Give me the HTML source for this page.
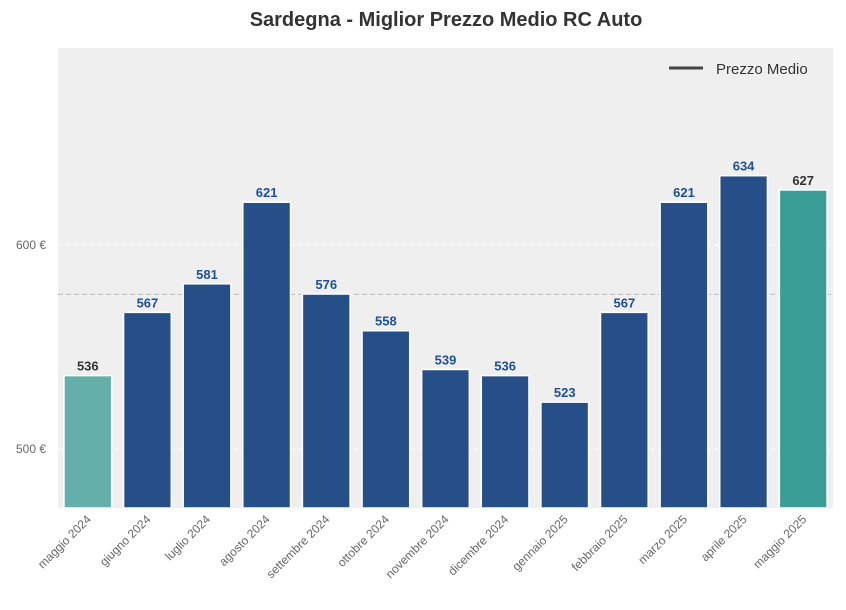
<!DOCTYPE html>
<html><head><meta charset="utf-8"><style>
body{margin:0;background:#fff;font-family:"Liberation Sans",Arial,sans-serif}
svg{display:block}
</style></head><body>
<svg id="chart" width="846" height="610" xmlns="http://www.w3.org/2000/svg">
<text x="446" y="26" text-anchor="middle" font-size="20" font-weight="bold" fill="#333">Sardegna - Miglior Prezzo Medio RC Auto</text>
<rect x="58" y="48" width="775" height="460" fill="#efefef"/>
<g id="grid"></g><g id="bars"></g><g id="labels"></g><g id="xticks"></g><g id="yticks"></g>
<g>
<line x1="669" y1="68" x2="703" y2="68" stroke="#444" stroke-width="3"/>
<text x="716" y="74" font-size="15" fill="#333">Prezzo Medio</text>
</g>
</svg>
<script>
const categories=["maggio 2024","giugno 2024","luglio 2024","agosto 2024","settembre 2024","ottobre 2024","novembre 2024","dicembre 2024","gennaio 2025","febbraio 2025","marzo 2025","aprile 2025","maggio 2025"];
const values=[536,567,581,621,576,558,539,536,523,567,621,634,627];
const yTicks=[500,600];
const NS="http://www.w3.org/2000/svg";
const X0=58,X1=833,Y0=508,Y1=48,VMIN=471.1,VMAX=696.6;
const step=(X1-X0)/categories.length;
const xc=i=>X0+step*(i+0.5);
const y=v=>Y0-(v-VMIN)/(VMAX-VMIN)*(Y0-Y1);
function mk(t,a,p){const e=document.createElementNS(NS,t);for(const k in a)e.setAttribute(k,a[k]);document.getElementById(p).appendChild(e);return e;}
yTicks.forEach(v=>{
 const g=mk('line',{x1:X0,x2:X1,y1:y(v),y2:y(v),stroke:'#fff','stroke-width':1,'stroke-dasharray':'5,3'},'grid');
 
 
 const t=mk('text',{x:46,y:y(v)+4,'text-anchor':'end','font-size':12,fill:'#666'},'yticks');
 t.textContent=v+' €';
 
 
});
const mean=values.reduce((a,b)=>a+b,0)/values.length;
const ml=mk('line',{x1:X0,x2:X1,y1:y(mean),y2:y(mean),stroke:'#bbb','stroke-width':1,'stroke-dasharray':'5,3'},'grid');


const bw=step*0.8;
values.forEach((v,i)=>{
 const last=i===values.length-1,first=i===0;
 const col=first?'#63b0aa':last?'#3a9e96':'#264e87';
 const r=mk('rect',{x:xc(i)-bw/2,y:y(v),width:bw,height:Y0-y(v),fill:col,stroke:'#fff','stroke-width':1.5},'bars');
 
 
 const t=mk('text',{x:xc(i),y:y(v)-5,'text-anchor':'middle','font-size':13,'font-weight':'bold',fill:(first||last)?'#333':'#1f4e9a'},'labels');
 t.textContent=v;
 
 
 const xt=mk('text',{x:xc(i)+4,y:520,'text-anchor':'end','font-size':12,fill:'#666',transform:`rotate(-45 ${xc(i)+4} 520)`},'xticks');
 xt.textContent=categories[i];
 
 
});
</script>
</body></html>
